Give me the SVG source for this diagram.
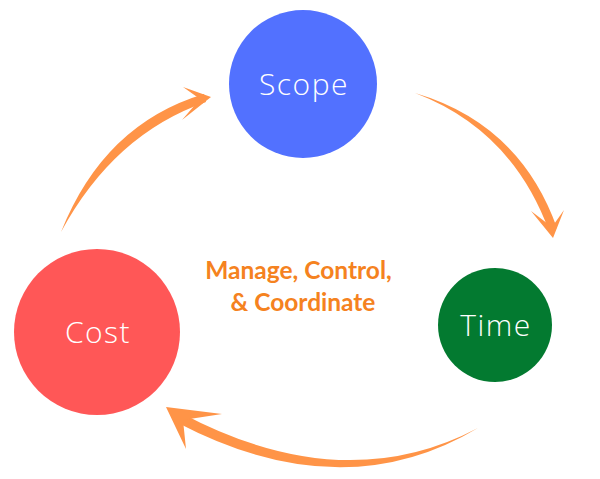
<svg xmlns="http://www.w3.org/2000/svg" width="600" height="479" viewBox="0 0 600 479">
<style>
.lbl{font-family:"Open Sans","Liberation Sans",sans-serif;font-weight:300;fill:#ffffff;text-anchor:middle;font-size:30px;letter-spacing:1.5px}
.arr{fill:#FF9447}
.mid{font-family:Lato,"Liberation Sans",sans-serif;font-weight:700;fill:#F58220;font-size:24.5px;text-anchor:middle}
</style>
<rect width="600" height="479" fill="#ffffff"/>
<g id="connectors">
<g id="cost-scope">
<path class="arr" d="M61,232 Q104,124 204,94 L206,102 Q114,134 61,232 Z"/>
<path class="arr" d="M183,87 L211,97 L182,120 L200,99 Z"/>
</g>
<g id="scope-time">
<path class="arr" d="M415,93 Q512,130 549,231 L557,228 Q520,124 415,93 Z"/>
<path class="arr" d="M531,211 L553,238 L564,210 L552,227 Z"/>
</g>
<g id="time-cost">
<path class="arr" d="M478,428 Q343,499 181,413 L178,423 Q343,509 478,428 Z"/>
<path class="arr" d="M222,414 L166,407 L186,449 L183,420 Z"/>
</g>
</g>
<g id="scope">
<circle cx="303" cy="84" r="74" fill="#5271FF"/>
<text class="lbl" x="304" y="95">Scope</text>
</g>
<g id="time">
<circle cx="495" cy="325" r="57" fill="#037A30"/>
<text class="lbl" x="496" y="336">Time</text>
</g>
<g id="cost">
<circle cx="97" cy="332" r="83" fill="#FF5757"/>
<text class="lbl" x="98" y="343">Cost</text>
</g>
<g id="center-label">
<text class="mid" x="298.5" y="279">Manage, Control,</text>
<text class="mid" x="303" y="311">&amp; Coordinate</text>
</g>
</svg>
